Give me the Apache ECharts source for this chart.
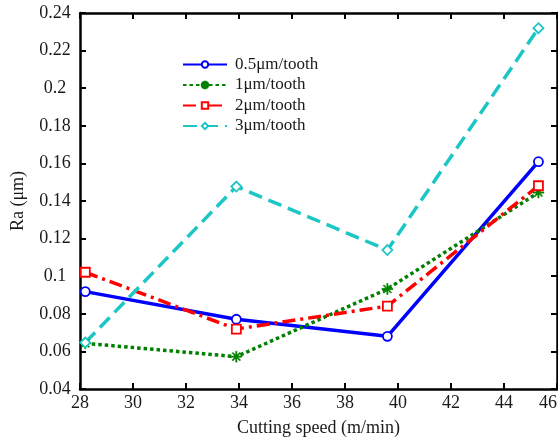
<!DOCTYPE html>
<html>
<head>
<meta charset="utf-8">
<script src="https://cdn.jsdelivr.net/npm/echarts@6/dist/echarts.min.js"></script>
<style>
  html, body { margin: 0; padding: 0; background: #fff; }
  #chart { width: 558px; height: 443px; }
</style>
</head>
<body>
<div id="chart"></div>
<script>
// Cutting speed (m/min) at which each surface roughness was measured
const speeds = [28.2, 33.9, 39.6, 45.3];

// Surface roughness Ra (µm) for each feed per tooth
const feed05 = [0.0918, 0.0771, 0.0680, 0.1609];
const feed1  = [0.0643, 0.0572, 0.0932, 0.1445];
const feed2  = [0.1021, 0.0719, 0.0841, 0.1481];
const feed3  = [0.0647, 0.1477, 0.1139, 0.2319];

const seriesNames = ['0.5μm/tooth', '1μm/tooth', '2μm/tooth', '3μm/tooth'];

const xAxisName = 'Cutting speed (m/min)';
const yAxisName = 'Ra (μm)';

const serif = 'Liberation Serif, Times New Roman, serif';
const ink = '#1a1a1a';

// eight-armed asterisk marker
const asterisk = 'path://M4.4,0H5.6V3.6L8.1,1.1L8.9,1.9L6.4,4.4H10V5.6H6.4L8.9,8.1L8.1,8.9L5.6,6.4V10H4.4V6.4L1.9,8.9L1.1,8.1L3.6,5.6H0V4.4H3.6L1.1,1.9L1.9,1.1L4.4,3.6Z';

function pairs(ys) {
  return speeds.map((x, i) => [x, ys[i]]);
}

function makeSeries(name, ys, color, lineType, width, symbol, size, filled) {
  return {
    name: name,
    type: 'line',
    data: pairs(ys),
    symbol: symbol,
    symbolSize: size,
    showAllSymbol: true,
    lineStyle: { color: color, width: width, type: lineType, cap: 'butt' },
    itemStyle: {
      color: filled ? color : '#fff',
      borderColor: color,
      borderWidth: filled ? 0.5 : 1.8
    },
    emphasis: { disabled: true },
    animation: false
  };
}

const chart = echarts.init(document.getElementById('chart'), null, { renderer: 'canvas' });

const axisCommon = {
  type: 'value',
  axisLine: { show: true, lineStyle: { color: '#000', width: 2.5 } },
  axisTick: { show: true, inside: true, length: 6, lineStyle: { color: '#000', width: 2 } },
  splitLine: { show: false }
};

chart.setOption({
  backgroundColor: '#fff',
  grid: { left: 80, right: 1, top: 13, bottom: 54, containLabel: false, outerBoundsMode: 'none' },
  legend: {
    orient: 'vertical',
    left: 177,
    top: 51,
    itemWidth: 44,
    itemHeight: 8,
    itemGap: 3.5,
    textStyle: { fontFamily: serif, fontSize: 17, color: ink, padding: [0, 0, 0, 3] },
    data: seriesNames
  },
  xAxis: [
    Object.assign({}, axisCommon, {
      min: 28, max: 46, interval: 2,
      position: 'bottom',
      name: xAxisName,
      nameLocation: 'middle',
      nameGap: 30,
      nameTextStyle: { fontFamily: serif, fontSize: 18, color: ink },
      axisLabel: { fontFamily: serif, fontSize: 18, color: ink, margin: 5, alignMaxLabel: 'right' }
    }),
    Object.assign({}, axisCommon, {
      min: 28, max: 46, interval: 2,
      position: 'top',
      axisLabel: { show: false }
    })
  ],
  yAxis: [
    Object.assign({}, axisCommon, {
      min: 0.04, max: 0.24, interval: 0.02,
      position: 'left',
      name: yAxisName,
      nameLocation: 'middle',
      nameGap: 53,
      nameRotate: 90,
      nameTextStyle: { fontFamily: serif, fontSize: 18, color: ink },
      axisLabel: { fontFamily: serif, fontSize: 18, color: ink, margin: 25, align: 'center' }
    }),
    Object.assign({}, axisCommon, {
      min: 0.04, max: 0.24, interval: 0.02,
      position: 'right',
      axisLabel: { show: false }
    })
  ],
  series: [
    makeSeries(seriesNames[0], feed05, '#0000ff', 'solid', 3.5, 'circle', 9, false),
    makeSeries(seriesNames[1], feed1, '#008000', [3.5, 3], 3.5, asterisk, 11, true),
    makeSeries(seriesNames[2], feed2, '#ff0000', [13, 5, 3, 5], 3.5, 'rect', 9, false),
    makeSeries(seriesNames[3], feed3, '#1cc6c6', [14, 7], 3.5, 'diamond', 10, false)
  ]
});
</script>
</body>
</html>
